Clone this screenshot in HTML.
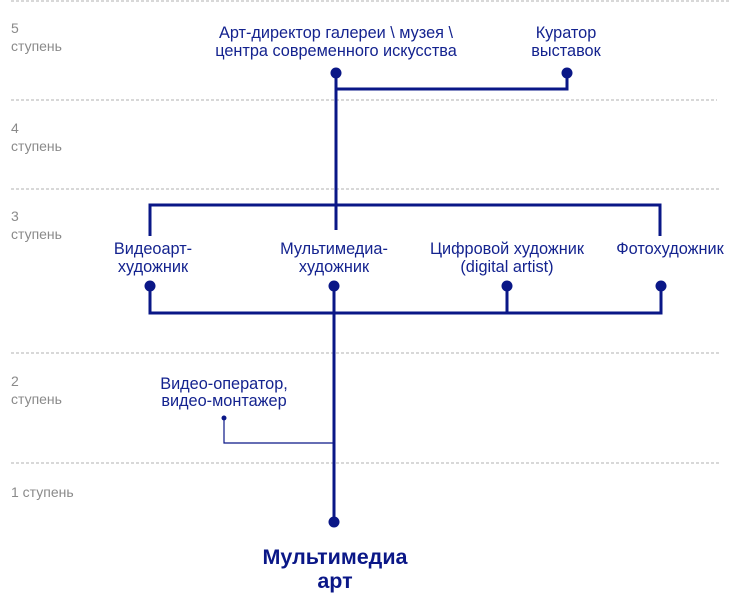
<!DOCTYPE html>
<html><head><meta charset="utf-8"><style>
html,body{margin:0;padding:0;background:#fff;}
svg{display:block;}
text{font-family:"Liberation Sans",sans-serif;}
.g{fill:#8a8a8a;font-size:14px;}
.b{fill:#14238f;font-size:16.3px;text-anchor:middle;}
</style></head><body>
<svg width="730" height="602" viewBox="0 0 730 602" xmlns="http://www.w3.org/2000/svg">
<g stroke="#b0b0b0" stroke-width="1" stroke-dasharray="3,2">
<line x1="11" y1="1" x2="730" y2="1"/>
<line x1="11" y1="100" x2="717" y2="100"/>
<line x1="11" y1="189" x2="719" y2="189"/>
<line x1="11" y1="353" x2="719" y2="353"/>
<line x1="11" y1="463" x2="719" y2="463"/>
</g>
<g class="g">
<text x="11" y="33">5</text><text x="11" y="51">ступень</text>
<text x="11" y="133">4</text><text x="11" y="151">ступень</text>
<text x="11" y="221">3</text><text x="11" y="239">ступень</text>
<text x="11" y="386">2</text><text x="11" y="404">ступень</text>
<text x="11" y="497">1 ступень</text>
</g>
<g fill="none" stroke="#0a1787" stroke-width="3">
<polyline points="336,73 336,230"/>
<polyline points="336,89 567,89 567,73"/>
<polyline points="150,236 150,205 660,205 660,236"/>
<polyline points="150,286 150,313 661,313 661,286"/>
<line x1="507" y1="286" x2="507" y2="313"/>
<line x1="334" y1="286" x2="334" y2="522"/>
</g>
<polyline points="224,418 224,443 334,443" fill="none" stroke="#0a1787" stroke-width="1.2"/>
<g fill="#0a1787">
<circle cx="336" cy="73" r="5.5"/><circle cx="567" cy="73" r="5.5"/>
<circle cx="150" cy="286" r="5.5"/><circle cx="334" cy="286" r="5.5"/>
<circle cx="507" cy="286" r="5.5"/><circle cx="661" cy="286" r="5.5"/>
<circle cx="334" cy="522" r="5.5"/><circle cx="224" cy="418" r="2.5"/>
</g>
<g class="b">
<text x="336" y="38">Арт-директор галереи \ музея \</text>
<text x="336" y="56">центра современного искусства</text>
<text x="566" y="38">Куратор</text><text x="566" y="56">выставок</text>
<text x="153" y="254">Видеоарт-</text><text x="153" y="272">художник</text>
<text x="334" y="254">Мультимедиа-</text><text x="334" y="272">художник</text>
<text x="507" y="254">Цифровой художник</text><text x="507" y="272">(digital artist)</text>
<text x="670" y="254">Фотохудожник</text>
<text x="224" y="389">Видео-оператор,</text><text x="224" y="406">видео-монтажер</text>
<text x="335" y="564" style="font-size:21.5px;font-weight:bold;fill:#0a1787">Мультимедиа</text>
<text x="335" y="588" style="font-size:21.5px;font-weight:bold;fill:#0a1787">арт</text>
</g>
</svg>
</body></html>
